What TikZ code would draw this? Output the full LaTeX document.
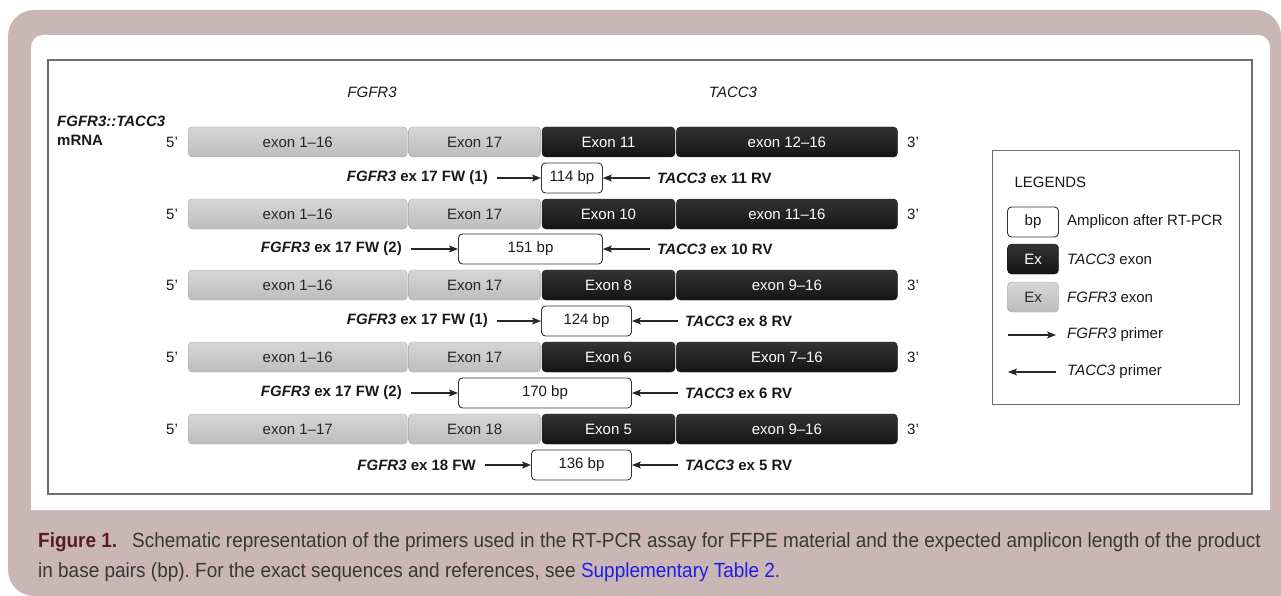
\documentclass[tikz,border=0pt]{standalone}
\usepackage{fontspec}
\setmainfont{Liberation Sans}
\newfontfamily\capfont[FakeStretch=0.925]{Liberation Sans}
\usetikzlibrary{arrows.meta}

\definecolor{pinkbg}{HTML}{C9B6B5}
\definecolor{framegray}{HTML}{6E6E6E}
\definecolor{figred}{HTML}{5B1A2C}
\definecolor{captext}{HTML}{383838}
\definecolor{linkblue}{HTML}{1E1EE6}

\tikzset{
    exon/.style={rounded corners=4pt, minimum height=30pt, inner sep=0pt, anchor=west},
    fexon/.style={exon, top color=black!16, bottom color=black!26, draw=black!35, line width=0.4pt, text=black!85},
    texon/.style={exon, top color=black!80, bottom color=black!92, draw=black!92, line width=0.4pt, text=white},
    ampbox/.style={draw=black!80, fill=white, rounded corners=4pt, line width=0.9pt, minimum height=30pt, inner sep=0pt},
    primer/.style={-{Stealth[length=9pt,width=7pt,inset=2pt]}, line width=1.1pt, draw=black!85},
    lbl/.style={inner sep=0pt, font=\fontsize{15}{18}\selectfont\bfseries, text=black!90}
}

\newcommand{\fusionrow}[6]{%
    \node (#1five) at (172,#2) {5'};
    \node[fexon, minimum width=219pt] (#1a) at (188,#2) {#3};
    \node[fexon, minimum width=132pt] (#1b) at ([xshift=1pt]#1a.east) {#4};
    \node[texon, minimum width=133pt] (#1c) at ([xshift=1pt]#1b.east) {#5};
    \node[texon, minimum width=221pt] (#1d) at ([xshift=1pt]#1c.east) {#6};
    \node (#1three) at (913,#2) {3'};
}
\newcommand{\ampliconrow}[9]{%
    \node[ampbox, minimum width={#4-#3}, anchor=west] (#1) at (#3,#2) {#5};
    \coordinate (#1fw) at (#6,#2);
    \coordinate (#1rv) at (#8,#2);
    \draw[primer] (#1fw) -- (#1);
    \draw[primer] (#1rv) -- (#1);
    \node[lbl, anchor=east] (#1fwl) at ([xshift=-9pt]#1fw) {#7};
    \node[lbl, anchor=west] (#1rvl) at ([xshift=7pt]#1rv) {#9};
}

\begin{document}
\frenchspacing
\begin{tikzpicture}[x=1pt, y=-1pt, every node/.style={font=\fontsize{15}{18}\selectfont, text=black!90}]
        \useasboundingbox (0,0) rectangle (1281,596);
        \fill[white] (0,0) rectangle (1281,596);
        \fill[pinkbg, rounded corners=26pt] (8,10) rectangle (1281,596);
        \fill[pinkbg] (1200,500) rectangle (1281,596);
        \fill[white] (31,510) [rounded corners=12pt] -- (31,35) -- (1270,35) [sharp corners] -- (1270,510) -- cycle;
        \draw[framegray, line width=1.2pt] (48,60) rectangle (1252,494);

        \node (hfgfr) at (372,92) {\itshape FGFR3};
        \node (htacc) at (733,92) {\itshape TACC3};
        \node[lbl, anchor=west] (hfusion) at (57,121) {\itshape FGFR3::TACC3};
        \node[lbl, anchor=west] (hmrna) at (57,140) {mRNA};

        \fusionrow{r1}{142}{exon 1--16}{Exon 17}{Exon 11}{exon 12--16}
        \ampliconrow{a1}{178}{541}{602}{114 bp}{497}{\textit{FGFR3} ex 17 FW (1)}{650}{\textit{TACC3} ex 11 RV}
        \fusionrow{r2}{214}{exon 1--16}{Exon 17}{Exon 10}{exon 11--16}
        \ampliconrow{a2}{249}{458}{602}{151 bp}{411}{\textit{FGFR3} ex 17 FW (2)}{650}{\textit{TACC3} ex 10 RV}
        \fusionrow{r3}{285}{exon 1--16}{Exon 17}{Exon 8}{exon 9--16}
        \ampliconrow{a3}{321}{541}{631}{124 bp}{497}{\textit{FGFR3} ex 17 FW (1)}{678}{\textit{TACC3} ex 8 RV}
        \fusionrow{r4}{357}{exon 1--16}{Exon 17}{Exon 6}{Exon 7--16}
        \ampliconrow{a4}{393}{458}{631}{170 bp}{411}{\textit{FGFR3} ex 17 FW (2)}{678}{\textit{TACC3} ex 6 RV}
        \fusionrow{r5}{429}{exon 1--17}{Exon 18}{Exon 5}{exon 9--16}
        \ampliconrow{a5}{465}{531}{631}{136 bp}{485}{\textit{FGFR3} ex 18 FW}{678}{\textit{TACC3} ex 5 RV}

        \draw[framegray, line width=1pt] (992,151) rectangle (1239,404);
        \node[anchor=west] (legtitle) at (1011,182) {LEGENDS};
        \node[ampbox, minimum width=51pt] (legbp) at (1033,222) {bp};
        \node[anchor=west, inner sep=0pt] (legbpl) at (1067,222) {Amplicon after RT-PCR};
        \node[texon, minimum width=51pt, anchor=center] (legtex) at (1033,259) {Ex};
        \node[anchor=west, inner sep=0pt] (legtexl) at (1067,259) {\itshape TACC3\upshape{} exon};
        \node[fexon, minimum width=51pt, anchor=center] (legfex) at (1033,297) {Ex};
        \node[anchor=west, inner sep=0pt] (legfexl) at (1067,297) {\itshape FGFR3\upshape{} exon};
        \coordinate (legfwa) at (1008,335);
        \coordinate (legfwb) at (1056,335);
        \draw[primer] (legfwa) -- (legfwb);
        \node[anchor=west, inner sep=0pt] (legfwl) at (1067,335) {\itshape FGFR3\upshape{} primer};
        \coordinate (legrva) at (1056,372);
        \coordinate (legrvb) at (1008,372);
        \draw[primer] (legrva) -- (legrvb);
        \node[anchor=west, inner sep=0pt] (legrvl) at (1067,372) {\itshape TACC3\upshape{} primer};

        \node[anchor=base west, inner sep=0pt, font=\capfont\fontsize{20.5}{24}\selectfont, text=captext] (capone) at (38,547) {\textcolor{figred}{\bfseries Figure 1.}\hspace{15pt}Schematic representation of the primers used in the RT-PCR assay for FFPE material and the expected amplicon length of the product};
        \node[anchor=base west, inner sep=0pt, font=\capfont\fontsize{20.5}{24}\selectfont, text=captext] (captwo) at (38,577) {in base pairs (bp). For the exact sequences and references, see \textcolor{linkblue}{Supplementary Table 2}.};
    \end{tikzpicture}
\end{document}
